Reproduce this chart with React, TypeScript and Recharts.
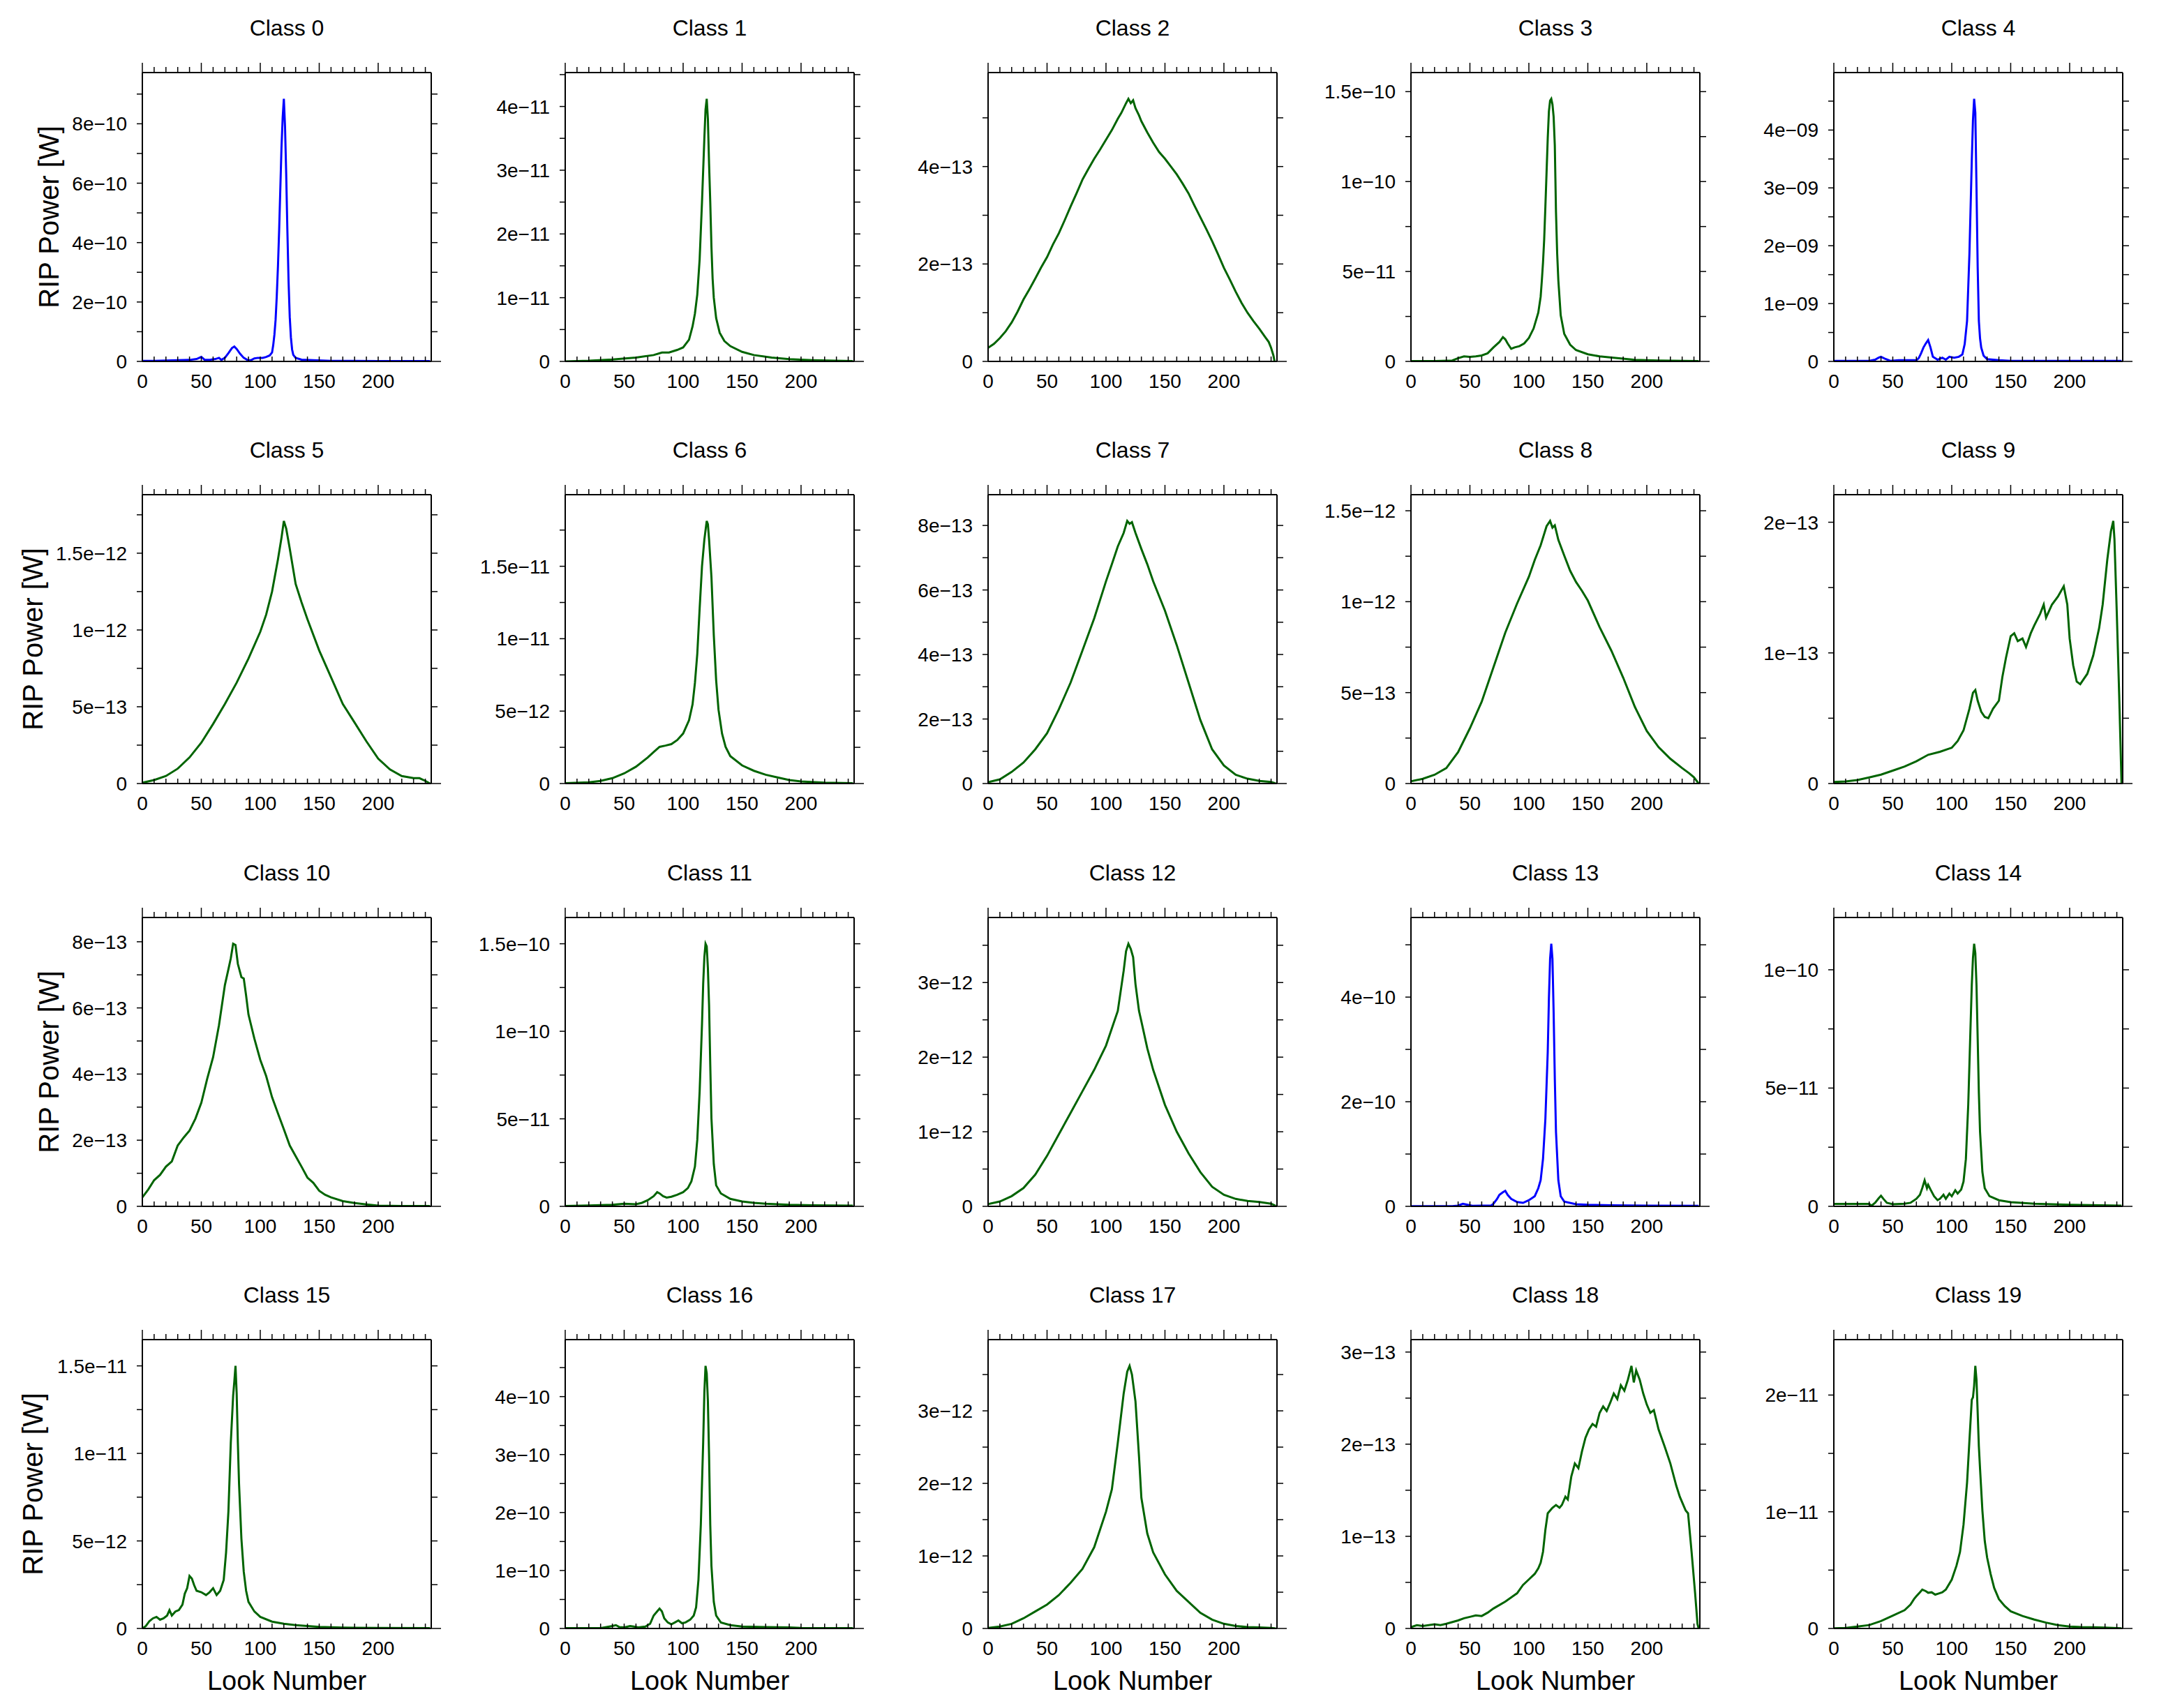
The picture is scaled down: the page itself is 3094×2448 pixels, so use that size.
import React from 'react'
import { LineChart, Line, XAxis, YAxis } from 'recharts'

// ---------------------------------------------------------------------------
// RIP power per look, one list per class.
// Each entry is [look number, power in units of classUnits[i]].
// ---------------------------------------------------------------------------
const class0 = [[0, 0.02], [10, 0.02], [20, 0.03], [30, 0.04], [40, 0.05], [46, 0.08], [50, 0.15], [53, 0.05], [58, 0.06], [62, 0.08], [65, 0.12], [67, 0.05], [70, 0.12], [73, 0.28], [76, 0.45], [78, 0.5], [80, 0.42], [83, 0.25], [86, 0.12], [89, 0.05], [92, 0.04], [95, 0.1], [98, 0.12], [102, 0.12], [105, 0.15], [108, 0.2], [110, 0.3], [111, 0.55], [112, 0.9], [113, 1.4], [114, 2.2], [115, 3.2], [116, 4.4], [117, 5.8], [118, 7.2], [119, 8.2], [120, 8.84], [121, 7.9], [122, 6.3], [123, 4.4], [124, 2.7], [125, 1.5], [126, 0.8], [127, 0.4], [128, 0.22], [130, 0.12], [135, 0.06], [145, 0.04], [160, 0.02], [200, 0.01], [244, 0.01]]
const class1 = [[0, 0], [20, 0.01], [40, 0.03], [60, 0.06], [75, 0.1], [82, 0.14], [88, 0.14], [95, 0.18], [100, 0.22], [105, 0.34], [108, 0.55], [110, 0.75], [112, 1.05], [114, 1.6], [116, 2.5], [118, 3.5], [119, 3.95], [120, 4.12], [121, 3.8], [122, 3.1], [123, 2.5], [124, 1.8], [125, 1.3], [126, 1.0], [128, 0.68], [131, 0.45], [135, 0.32], [140, 0.24], [150, 0.15], [160, 0.1], [175, 0.06], [190, 0.035], [210, 0.02], [230, 0.01], [244, 0.005]]
const class2 = [[0, 0.28], [5, 0.36], [10, 0.48], [15, 0.62], [20, 0.8], [25, 1.02], [30, 1.27], [35, 1.48], [40, 1.7], [45, 1.93], [50, 2.14], [55, 2.4], [60, 2.63], [65, 2.9], [70, 3.18], [75, 3.45], [80, 3.73], [85, 3.95], [90, 4.16], [95, 4.35], [100, 4.55], [105, 4.75], [110, 4.98], [113, 5.1], [115, 5.2], [117, 5.3], [119, 5.39], [121, 5.3], [123, 5.36], [125, 5.2], [128, 5.05], [130, 4.93], [135, 4.7], [140, 4.49], [145, 4.3], [150, 4.16], [155, 4.0], [160, 3.84], [165, 3.65], [170, 3.45], [175, 3.2], [180, 2.96], [185, 2.72], [190, 2.47], [195, 2.2], [200, 1.92], [205, 1.68], [210, 1.43], [215, 1.2], [220, 1.0], [225, 0.83], [230, 0.67], [235, 0.5], [238, 0.4], [240, 0.28], [242, 0.12], [243, 0]]
const class3 = [[0, 0.02], [20, 0.02], [35, 0.05], [40, 0.18], [45, 0.28], [50, 0.25], [55, 0.28], [60, 0.33], [65, 0.45], [70, 0.78], [75, 1.08], [78, 1.35], [80, 1.23], [82, 1.0], [85, 0.7], [88, 0.78], [92, 0.85], [96, 1.0], [100, 1.3], [104, 1.83], [108, 2.72], [110, 3.6], [111, 4.5], [112, 5.5], [113, 6.8], [114, 8.6], [115, 10.5], [116, 12.4], [117, 13.9], [118, 14.5], [119, 14.6], [120, 14.3], [121, 13.6], [122, 12.0], [123, 8.3], [124, 6.0], [125, 4.5], [127, 2.57], [130, 1.53], [135, 0.93], [140, 0.63], [150, 0.4], [160, 0.28], [175, 0.18], [190, 0.09], [210, 0.05], [244, 0.02]]
const class4 = [[0, 0.01], [30, 0.01], [35, 0.03], [38, 0.065], [40, 0.08], [43, 0.05], [48, 0.01], [55, 0.02], [70, 0.02], [72, 0.055], [74, 0.14], [76, 0.24], [78, 0.31], [80, 0.37], [82, 0.24], [84, 0.08], [88, 0.03], [92, 0.065], [95, 0.03], [98, 0.08], [102, 0.065], [106, 0.08], [109, 0.12], [111, 0.3], [113, 0.7], [115, 1.86], [117, 3.47], [118, 4.17], [119, 4.54], [120, 4.3], [121, 3.0], [122, 1.63], [123, 0.7], [124, 0.4], [125, 0.24], [127, 0.1], [130, 0.04], [140, 0.02], [150, 0.01], [244, 0.01]]
const class5 = [[0, 0.05], [10, 0.23], [20, 0.49], [30, 0.97], [40, 1.7], [50, 2.66], [60, 3.88], [70, 5.18], [80, 6.57], [90, 8.14], [100, 9.88], [105, 11.0], [110, 12.5], [115, 14.6], [118, 16.0], [120, 17.1], [122, 16.6], [125, 15.3], [130, 13.0], [135, 11.8], [140, 10.7], [150, 8.66], [160, 6.92], [170, 5.18], [180, 3.97], [190, 2.75], [200, 1.62], [210, 0.92], [220, 0.49], [230, 0.35], [235, 0.35], [240, 0.17], [244, 0]]
const class6 = [[0, 0.02], [20, 0.09], [30, 0.18], [40, 0.37], [50, 0.7], [60, 1.16], [70, 1.8], [75, 2.17], [80, 2.53], [85, 2.62], [90, 2.72], [95, 3.0], [100, 3.45], [105, 4.37], [108, 5.47], [110, 6.94], [112, 8.95], [114, 12.07], [116, 15.0], [118, 16.84], [120, 18.13], [121, 17.9], [122, 16.84], [124, 14.27], [126, 10.24], [128, 7.12], [130, 5.1], [133, 3.45], [136, 2.53], [140, 1.89], [150, 1.25], [160, 0.88], [170, 0.61], [180, 0.42], [190, 0.24], [200, 0.15], [220, 0.06], [244, 0.02]]
const class7 = [[0, 0.04], [10, 0.13], [20, 0.36], [30, 0.65], [40, 1.06], [50, 1.56], [60, 2.3], [70, 3.13], [80, 4.12], [90, 5.12], [100, 6.27], [105, 6.8], [110, 7.35], [115, 7.77], [118, 8.14], [120, 8.05], [122, 8.1], [125, 7.77], [130, 7.27], [135, 6.8], [140, 6.27], [150, 5.36], [160, 4.29], [170, 3.13], [180, 1.97], [190, 1.06], [200, 0.56], [210, 0.27], [220, 0.15], [230, 0.08], [240, 0.05], [244, 0]]
const class8 = [[0, 0.12], [10, 0.26], [20, 0.48], [30, 0.85], [40, 1.73], [50, 3.04], [60, 4.5], [70, 6.4], [80, 8.3], [90, 9.9], [100, 11.37], [105, 12.3], [110, 13.1], [115, 14.15], [118, 14.44], [120, 14.07], [122, 14.2], [125, 13.4], [130, 12.54], [135, 11.7], [140, 11.08], [145, 10.6], [150, 10.06], [160, 8.6], [170, 7.3], [180, 5.82], [190, 4.2], [200, 2.89], [210, 2.0], [220, 1.36], [230, 0.85], [236, 0.56], [240, 0.34], [244, 0]]
const class9 = [[0, 0.12], [10, 0.16], [20, 0.27], [30, 0.47], [40, 0.68], [50, 0.99], [60, 1.3], [70, 1.7], [80, 2.2], [90, 2.43], [100, 2.74], [105, 3.25], [110, 4.07], [115, 5.72], [118, 6.95], [120, 7.16], [122, 6.34], [125, 5.5], [128, 5.1], [131, 5.0], [135, 5.72], [140, 6.34], [143, 8.19], [146, 9.63], [150, 11.28], [153, 11.5], [156, 10.9], [160, 11.1], [163, 10.45], [167, 11.5], [170, 12.1], [175, 13.0], [178, 13.7], [180, 12.7], [185, 13.7], [190, 14.3], [195, 15.1], [198, 13.7], [200, 11.1], [203, 9.05], [206, 7.8], [209, 7.6], [212, 8.0], [215, 8.4], [220, 9.8], [225, 11.9], [228, 13.7], [232, 17.2], [235, 19.3], [237, 20.1], [238, 18.7], [240, 13.0], [242, 6.8], [244, 0]]
const class10 = [[0, 0.27], [5, 0.51], [10, 0.79], [15, 0.95], [20, 1.2], [25, 1.36], [30, 1.84], [35, 2.08], [40, 2.29], [45, 2.65], [50, 3.13], [55, 3.86], [60, 4.51], [65, 5.48], [70, 6.69], [73, 7.17], [75, 7.5], [77, 7.94], [79, 7.9], [81, 7.33], [84, 6.93], [86, 6.89], [88, 6.37], [90, 5.8], [95, 5.07], [100, 4.43], [105, 3.94], [110, 3.3], [115, 2.81], [120, 2.33], [125, 1.84], [130, 1.52], [135, 1.2], [140, 0.87], [145, 0.71], [150, 0.47], [155, 0.35], [160, 0.27], [170, 0.16], [180, 0.1], [190, 0.06], [200, 0.02], [220, 0.01], [244, 0.01]]
const class11 = [[0, 0.02], [20, 0.05], [40, 0.09], [50, 0.15], [60, 0.12], [65, 0.2], [70, 0.35], [75, 0.58], [78, 0.81], [80, 0.74], [83, 0.58], [86, 0.5], [90, 0.55], [95, 0.66], [100, 0.81], [104, 1.04], [107, 1.43], [110, 2.27], [112, 3.8], [114, 6.56], [116, 10.4], [117, 12.7], [118, 14.23], [119, 15.0], [120, 14.85], [121, 13.6], [122, 11.5], [123, 8.1], [124, 5.03], [126, 2.42], [128, 1.2], [132, 0.74], [140, 0.43], [150, 0.28], [160, 0.2], [170, 0.15], [190, 0.09], [210, 0.06], [244, 0.04]]
const class12 = [[0, 0.29], [10, 0.65], [20, 1.37], [30, 2.45], [40, 4.25], [50, 6.77], [60, 9.66], [70, 12.54], [80, 15.42], [90, 18.3], [100, 21.55], [110, 26.2], [115, 31.6], [117, 34.2], [119, 35.2], [121, 34.5], [123, 33.4], [125, 29.8], [128, 26.2], [130, 24.8], [135, 21.2], [140, 18.3], [150, 13.6], [160, 10.0], [170, 7.1], [180, 4.6], [190, 2.63], [200, 1.55], [210, 1.0], [220, 0.72], [230, 0.58], [240, 0.36], [244, 0.07]]
const class13 = [[0, 0.05], [35, 0.05], [40, 0.15], [44, 0.5], [48, 0.3], [52, 0.1], [60, 0.15], [68, 0.15], [70, 0.5], [73, 1.4], [75, 2.2], [78, 2.7], [80, 2.96], [82, 2.2], [85, 1.43], [90, 0.82], [95, 0.66], [100, 1.17], [105, 1.94], [108, 3.47], [110, 5.0], [112, 9.1], [114, 16.7], [116, 29.5], [117, 39.7], [118, 47.3], [119, 50.2], [120, 47.3], [121, 37.1], [122, 24.4], [123, 14.2], [125, 5.0], [127, 1.94], [130, 0.92], [140, 0.4], [150, 0.3], [170, 0.2], [200, 0.15], [244, 0.1]]
const class14 = [[0, 0.1], [30, 0.1], [32, 0.03], [35, 0.15], [38, 0.34], [40, 0.45], [42, 0.32], [45, 0.15], [50, 0.09], [60, 0.11], [65, 0.15], [70, 0.32], [73, 0.49], [75, 0.77], [77, 1.1], [79, 0.77], [80, 0.91], [82, 0.71], [85, 0.43], [88, 0.26], [90, 0.32], [93, 0.49], [95, 0.32], [98, 0.54], [100, 0.43], [103, 0.68], [105, 0.54], [108, 0.71], [110, 1.05], [112, 2.0], [114, 4.3], [116, 7.7], [117, 9.35], [118, 10.5], [119, 11.1], [120, 10.7], [121, 9.35], [122, 7.1], [123, 4.8], [124, 3.15], [126, 1.45], [128, 0.77], [132, 0.43], [140, 0.26], [150, 0.18], [170, 0.11], [200, 0.07], [244, 0.03]]
const class15 = [[0, 0], [3, 0.14], [6, 0.42], [9, 0.58], [12, 0.66], [15, 0.5], [18, 0.58], [21, 0.74], [23, 1.05], [25, 0.74], [28, 0.97], [31, 1.05], [34, 1.36], [36, 1.99], [38, 2.3], [40, 3.0], [42, 2.85], [44, 2.46], [46, 2.15], [50, 2.07], [54, 1.91], [57, 2.07], [60, 2.3], [63, 1.91], [66, 2.15], [69, 2.77], [71, 4.34], [73, 6.69], [75, 10.6], [77, 13.3], [78, 14.1], [79, 15.0], [80, 13.4], [81, 10.6], [82, 8.26], [84, 5.13], [86, 3.24], [88, 2.15], [90, 1.52], [95, 0.97], [100, 0.66], [110, 0.39], [120, 0.27], [130, 0.19], [140, 0.14], [150, 0.09], [170, 0.05], [200, 0.03], [244, 0.02]]
const class16 = [[0, 0.05], [30, 0.05], [35, 0.24], [40, 0.43], [43, 0.57], [46, 0.24], [50, 0.19], [55, 0.43], [58, 0.33], [62, 0.19], [68, 0.33], [72, 0.81], [75, 2.23], [78, 2.94], [80, 3.42], [82, 2.94], [84, 1.76], [87, 1.04], [90, 0.71], [93, 1.04], [96, 1.38], [99, 0.9], [102, 1.04], [106, 1.52], [109, 2.23], [111, 3.65], [113, 8.4], [115, 17.9], [116, 25.0], [117, 32.1], [118, 40.7], [119, 45.3], [120, 44.0], [121, 39.2], [122, 29.8], [123, 17.9], [124, 10.8], [126, 4.6], [128, 2.23], [132, 1.04], [140, 0.57], [150, 0.33], [170, 0.24], [190, 0.19], [200, 0.1], [244, 0.05]]
const class17 = [[0, 0.08], [10, 0.26], [20, 0.64], [30, 1.4], [40, 2.34], [50, 3.3], [60, 4.6], [70, 6.3], [80, 8.2], [90, 11.2], [100, 16.1], [105, 19.2], [110, 25.6], [115, 32.4], [118, 35.4], [120, 36.2], [122, 35.0], [125, 31.3], [128, 23.7], [130, 18.0], [135, 13.1], [140, 10.5], [150, 7.45], [160, 5.18], [170, 3.67], [180, 2.15], [190, 1.21], [200, 0.64], [210, 0.34], [220, 0.19], [230, 0.15], [240, 0.08], [244, 0]]
const class18 = [[0, 0.15], [5, 0.36], [10, 0.27], [20, 0.45], [25, 0.36], [30, 0.51], [40, 0.87], [45, 1.11], [50, 1.26], [55, 1.41], [60, 1.35], [65, 1.71], [70, 2.17], [80, 2.92], [90, 3.82], [95, 4.72], [100, 5.32], [105, 5.93], [108, 6.53], [110, 7.13], [112, 8.33], [114, 10.7], [116, 12.5], [118, 12.8], [120, 13.1], [123, 13.4], [126, 13.1], [128, 13.4], [131, 14.3], [133, 14.0], [136, 16.5], [139, 17.9], [142, 17.4], [145, 19.2], [148, 20.7], [151, 21.6], [154, 22.2], [157, 21.9], [160, 23.4], [163, 24.1], [166, 23.6], [169, 24.5], [172, 25.5], [175, 24.9], [178, 26.4], [181, 25.8], [184, 27.0], [187, 28.5], [189, 26.7], [191, 28.0], [194, 27.0], [197, 25.5], [200, 24.3], [203, 23.4], [206, 23.7], [210, 21.6], [215, 19.8], [220, 17.9], [225, 15.5], [228, 14.3], [231, 13.4], [233, 12.8], [235, 12.5], [238, 8.3], [241, 3.8], [243, 0.5], [244, 0]]
const class19 = [[0, 0.02], [10, 0.05], [20, 0.17], [30, 0.29], [40, 0.64], [50, 1.1], [60, 1.57], [65, 2.04], [68, 2.52], [70, 2.76], [73, 3.1], [75, 3.33], [78, 3.2], [80, 3.06], [83, 3.1], [86, 2.9], [89, 3.0], [92, 3.1], [95, 3.33], [100, 4.18], [104, 5.37], [107, 6.55], [110, 8.9], [113, 12.5], [115, 16.1], [117, 19.6], [118, 19.8], [119, 20.8], [120, 22.5], [121, 21.3], [122, 18.5], [123, 15.6], [124, 13.7], [126, 10.1], [128, 7.5], [130, 6.08], [133, 4.66], [136, 3.47], [140, 2.52], [145, 1.92], [150, 1.47], [160, 1.07], [170, 0.76], [180, 0.5], [190, 0.29], [200, 0.17], [210, 0.12], [220, 0.1], [230, 0.07], [244, 0.02]]

const series = [class0, class1, class2, class3, class4, class5, class6, class7, class8, class9,
  class10, class11, class12, class13, class14, class15, class16, class17, class18, class19]

const classUnits = [1e-10, 1e-11, 1e-13, 1e-11, 1e-9, 1e-13, 1e-12, 1e-13, 1e-13, 1e-14,
  1e-13, 1e-11, 1e-13, 1e-11, 1e-11, 1e-12, 1e-11, 1e-13, 1e-14, 1e-12]

// labelled y ticks of every panel (unlabelled ones sit half way between)
const classTicks = [
  ['0', '2e−10', '4e−10', '6e−10', '8e−10'],
  ['0', '1e−11', '2e−11', '3e−11', '4e−11'],
  ['0', '2e−13', '4e−13'],
  ['0', '5e−11', '1e−10', '1.5e−10'],
  ['0', '1e−09', '2e−09', '3e−09', '4e−09'],
  ['0', '5e−13', '1e−12', '1.5e−12'],
  ['0', '5e−12', '1e−11', '1.5e−11'],
  ['0', '2e−13', '4e−13', '6e−13', '8e−13'],
  ['0', '5e−13', '1e−12', '1.5e−12'],
  ['0', '1e−13', '2e−13'],
  ['0', '2e−13', '4e−13', '6e−13', '8e−13'],
  ['0', '5e−11', '1e−10', '1.5e−10'],
  ['0', '1e−12', '2e−12', '3e−12'],
  ['0', '2e−10', '4e−10'],
  ['0', '5e−11', '1e−10'],
  ['0', '5e−12', '1e−11', '1.5e−11'],
  ['0', '1e−10', '2e−10', '3e−10', '4e−10'],
  ['0', '1e−12', '2e−12', '3e−12'],
  ['0', '1e−13', '2e−13', '3e−13'],
  ['0', '1e−11', '2e−11'],
]

const blueClasses = [0, 4, 13]
const xLabels = [0, 50, 100, 150, 200]

const FONT = '"Liberation Sans", Arial, Helvetica, sans-serif'
const PLOT = 414
const COL0 = 204
const COL_STEP = 606
const ROW0 = 104
const ROW_STEP = 605.3
const AX_L = 130
const AX_R = 30
const AX_T = 30
const AX_B = 50
const X_MAX = 245
const xTicks = Array.from({ length: 25 }, (_, i) => i * 10)

const toNum = (s: string) => Number(s.replace('−', '-'))

// rough Helvetica advance widths, used to put the y title left of the widest label
const charW: Record<string, number> = { '.': 0.278, 'e': 0.556, '−': 0.584 }
const labelWidth = (s: string) => s.split('').reduce((w, ch) => w + (charW[ch] ?? 0.556), 0) * 28

function Panel({ idx }: { idx: number }) {
    const row = Math.floor(idx / 5)
    const col = idx % 5
    const left = COL0 + COL_STEP * col
    const top = ROW0 + ROW_STEP * row
    const unit = classUnits[idx]
    const data = series[idx].map(([look, v]) => ({ look, p: v * unit }))
    const yTop = Math.max(...data.map(d => d.p)) * 1.1
    const labels = classTicks[idx]
    const half = (toNum(labels[1]) - toNum(labels[0])) / 2
    const yTicks: number[] = []
    for (let k = 0; k * half <= yTop * 1.0001; k++) yTicks.push(k * half)
    const color = blueClasses.includes(idx) ? '#0000ff' : '#006400'

    const leftTick = ({ x, y, payload }: any) => {
        const k = Math.round(payload.value / half)
        return (
            <g>
                <line x1={x} x2={x - 8} y1={y} y2={y} stroke="#000" strokeWidth={1.5} />
                {k % 2 === 0 && (
                    <text x={x - 22} y={y + 10} textAnchor="end" fontSize={28} fontFamily={FONT} fill="#000">
                        {labels[k / 2]}
                    </text>
                )}
            </g>
        )
    }
    const rightTick = ({ x, y, payload }: any) => (
        <line x1={x} x2={x + (payload.value === 0 ? 14 : 9)} y1={y} y2={y} stroke="#000" strokeWidth={1.5} />
    )
    const topTick = ({ x, y, payload }: any) => (
        <line x1={x} x2={x} y1={y} y2={y - (payload.value % 50 === 0 ? 14 : 8)} stroke="#000" strokeWidth={1.5} />
    )
    const bottomTick = ({ x, y, payload }: any) => (
        <g>
            <line x1={x} x2={x} y1={y} y2={y - 7} stroke="#000" strokeWidth={1.5} />
            {xLabels.includes(payload.value) && (
                <text x={x} y={y + 38} textAnchor="middle" fontSize={28} fontFamily={FONT} fill="#000">
                    {payload.value}
                </text>
            )}
        </g>
    )

    return (
        <>
            <div
                style={{
                    position: 'absolute', left: left + PLOT / 2, top: top - 64,
                    transform: 'translate(-50%, -50%)', fontSize: 32, lineHeight: 1, whiteSpace: 'nowrap',
                }}
            >
                Class {idx}
            </div>
            <div style={{ position: 'absolute', left: left - AX_L, top: top - AX_T }}>
                <LineChart
                    width={AX_L + PLOT + AX_R}
                    height={AX_T + PLOT + AX_B}
                    data={data}
                    margin={{ top: 0, right: 0, bottom: 0, left: 0 }}
                >
                    <XAxis
                        xAxisId="b" dataKey="look" type="number" domain={[0, X_MAX]} allowDataOverflow
                        ticks={xTicks} interval={0} height={AX_B} tickSize={0} tickMargin={0} tickLine={false}
                        axisLine={{ stroke: '#000', strokeWidth: 2 }} tick={bottomTick}
                    />
                    <XAxis
                        xAxisId="t" dataKey="look" orientation="top" type="number" domain={[0, X_MAX]} allowDataOverflow
                        ticks={xTicks} interval={0} height={AX_T} tickSize={0} tickMargin={0} tickLine={false}
                        axisLine={{ stroke: '#000', strokeWidth: 2 }} tick={topTick}
                    />
                    <YAxis
                        yAxisId="l" type="number" domain={[0, yTop]} allowDataOverflow
                        ticks={yTicks} interval={0} width={AX_L} tickSize={0} tickMargin={0} tickLine={false}
                        axisLine={{ stroke: '#000', strokeWidth: 2 }} tick={leftTick}
                    />
                    <YAxis
                        yAxisId="r" orientation="right" type="number" domain={[0, yTop]} allowDataOverflow
                        ticks={yTicks} interval={0} width={AX_R} tickSize={0} tickMargin={0} tickLine={false}
                        axisLine={{ stroke: '#000', strokeWidth: 2 }} tick={rightTick}
                    />
                    {/* invisible twin so the top and right frame axes get the same scales */}
                    <Line
                        xAxisId="t" yAxisId="r" type="linear" dataKey="p" stroke="none"
                        dot={false} activeDot={false} isAnimationActive={false}
                    />
                    <Line
                        xAxisId="b" yAxisId="l" type="linear" dataKey="p" stroke={color}
                        strokeWidth={3} dot={false} isAnimationActive={false}
                    />
                </LineChart>
            </div>
        </>
    )
}

export default function App() {
    const panels = series.map((_, i) => i)
    const rows = [0, 1, 2, 3]
    return (
        <div
            style={{
                position: 'absolute', left: 0, top: 0, width: 3094, height: 2448,
                background: '#fff', fontFamily: FONT, color: '#000',
            }}
        >
            {panels.map(i => <Panel key={i} idx={i} />)}
            {rows.map(r => {
                const widest = Math.max(...classTicks[r * 5].map(labelWidth))
                const cx = COL0 - 22 - widest - 33
                const cy = ROW0 + ROW_STEP * r + PLOT / 2
                return (
                    <div
                        key={'yl' + r}
                        style={{
                            position: 'absolute', left: cx, top: cy, fontSize: 40, lineHeight: 1,
                            whiteSpace: 'nowrap', transform: 'translate(-50%, -50%) rotate(-90deg)',
                        }}
                    >
                        RIP Power [W]
                    </div>
                )
            })}
            {[0, 1, 2, 3, 4].map(c => (
                <div
                    key={'xl' + c}
                    style={{
                        position: 'absolute', left: COL0 + COL_STEP * c + PLOT / 2, top: 2409,
                        transform: 'translate(-50%, -50%)', fontSize: 38, lineHeight: 1, whiteSpace: 'nowrap',
                    }}
                >
                    Look Number
                </div>
            ))}
        </div>
    )
}
